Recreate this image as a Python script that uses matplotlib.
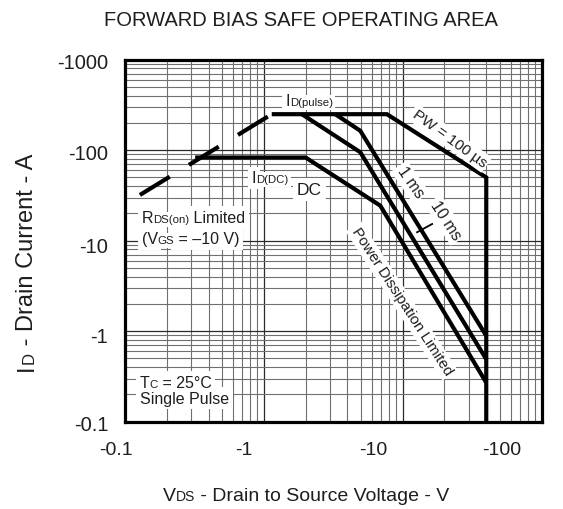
import numpy as np
import matplotlib
matplotlib.use("Agg")
import matplotlib.pyplot as plt
from matplotlib.ticker import LogLocator, NullFormatter, FixedLocator, FixedFormatter
from matplotlib.transforms import ScaledTranslation

plt.rcParams['font.family'] = ['Liberation Sans', 'DejaVu Sans']

# ---------------- data (magnitudes; axes show negative values) ----------------
rds_v = [0.128, 1.14]            # RDS(on) limit (dashed)
rds_i = [32, 250]
pw100us_v = [1.14, 7.7, 40, 40]  # PW = 100 us
pw100us_i = [250, 250, 50, 0.1]
pw1ms_v = [3.27, 4.95, 40]       # 1 ms
pw1ms_i = [250, 164, 0.89]
pw10ms_v = [1.88, 4.95, 40]      # 10 ms
pw10ms_i = [250, 95, 0.49]
dc_v = [0.32, 2.0, 6.9, 40]      # DC
dc_i = [83, 83, 24.4, 0.27]
leader_v = [16.3, 12.7]          # "10 ms" leader line
leader_i = [15.3, 12.4]

x_ticks = [0.1, 1, 10, 100]
x_tick_labels = ['-0.1', '-1', '-10', '-100']
y_ticks = [0.1, 1, 10, 100, 1000]
y_tick_labels = ['-0.1', '-1', '-10', '-100', '-1000']

# ---------------- layout ----------------
W, H = 563, 510
TXT = '#1e1e1e'
D = 0.21  # font descent fraction

fig = plt.figure(figsize=(W / 100, H / 100), dpi=100)
ax = fig.add_axes([125 / W, 1 - 422.7 / H, 416.5 / W, 362 / H])
ax.set_xscale('log')
ax.set_yscale('log')
ax.set_xlim(0.1, 100)
ax.set_ylim(0.1, 1000)

for axis in (ax.xaxis, ax.yaxis):
    axis.set_minor_locator(LogLocator(base=10, subs=np.arange(2, 10), numticks=30))
    axis.set_minor_formatter(NullFormatter())
ax.xaxis.set_major_locator(FixedLocator(x_ticks))
ax.xaxis.set_major_formatter(FixedFormatter(x_tick_labels))
ax.yaxis.set_major_locator(FixedLocator(y_ticks))
ax.yaxis.set_major_formatter(FixedFormatter(y_tick_labels))
ax.tick_params(which='both', length=0)
ax.tick_params(axis='x', pad=14, labelsize=14, labelcolor=TXT)
ax.tick_params(axis='y', pad=12, labelsize=14.5, labelcolor=TXT)
ax.grid(which='major', color='#2a2a2a', lw=0.9)
ax.grid(which='minor', color='#707070', lw=0.8)
ax.set_axisbelow(True)
for sp in ax.spines.values():
    sp.set_linewidth(2.3)
    sp.set_color('black')

# shift tick labels like the reference
x_label_shift_px = [-9, -19.7, -29, -40]
for lab, dx in zip(ax.get_xticklabels(), x_label_shift_px):
    lab.set_transform(lab.get_transform() + ScaledTranslation(dx / 100, 0, fig.dpi_scale_trans))
y_label_shift_px = [-1, -3, -4, -1, -1]
for lab, dy in zip(ax.get_yticklabels(), y_label_shift_px):
    lab.set_transform(lab.get_transform() + ScaledTranslation(0, dy / 100, fig.dpi_scale_trans))

# ---------------- curves ----------------
LW = 3.0
ax.plot(rds_v, rds_i, color='black', lw=LW, dashes=(8.4, 5.4), solid_capstyle='butt',
        dash_capstyle='butt', zorder=3)
for v, i in [(pw100us_v, pw100us_i), (pw1ms_v, pw1ms_i), (pw10ms_v, pw10ms_i), (dc_v, dc_i)]:
    ax.plot(v, i, color='black', lw=LW, solid_joinstyle='miter', solid_capstyle='butt',
            zorder=3, clip_on=True)
ax.plot(leader_v, leader_i, color='black', lw=1.3, zorder=5)


# ---------------- rich text helper ----------------
def rich(pieces, xy, xycoords='data', rotation=0):
    for box in (True, False):
        prev, prev_size = None, None
        for s, size in pieces:
            kw = dict(fontsize=size, annotation_clip=False,
                      color='white' if box else TXT, zorder=4 if box else 6)
            if box:
                kw['bbox'] = dict(boxstyle='square,pad=0.22', facecolor='white', edgecolor='none')
            if prev is None:
                if rotation == 0:
                    a = ax.annotate(s, xy=xy, xycoords=xycoords, ha='left', va='baseline', **kw)
                else:
                    a = ax.annotate(s, xy=xy, xycoords=xycoords, ha='left', va='baseline',
                                    rotation=90, rotation_mode='anchor', **kw)
            else:
                sh = D * (prev_size - size)
                if rotation == 0:
                    a = ax.annotate(s, xy=(1, 0), xycoords=prev, xytext=(0, sh),
                                    textcoords='offset points', ha='left', va='bottom', **kw)
                else:
                    a = ax.annotate(s, xy=(1, 1), xycoords=prev, xytext=(-sh, 0),
                                    textcoords='offset points', ha='right', va='bottom',
                                    rotation=90, **kw)
            prev, prev_size = a, size


BIG, SMALL = 11.5, 8.2
rich([('I', BIG), ('D(pulse)', SMALL)], (1.424, 316))
rich([('I', BIG), ('D(DC)', SMALL)], (0.819, 44.5))
rich([('DC', 12.5)], (1.73, 32.8))
rich([('R', BIG), ('DS(on)', SMALL), (' Limited', BIG)], (0.132, 16.1))
rich([('(V', BIG), ('GS', SMALL), (' = \u201310 V)', BIG)], (0.132, 9.43))
rich([('T', BIG), ('C', SMALL), (' = 25\u00b0C', BIG)], (0.128, 0.2417))
rich([('Single Pulse', BIG)], (0.128, 0.161))

box = dict(boxstyle='square,pad=0.15', facecolor='white', edgecolor='none')
for s, v, i, ang, fs in [('PW = 100 \u00b5s', 21.7, 136, -36, 11),
                         ('1 ms', 11.35, 44.5, -55, 11.5),
                         ('10 ms', 20.5, 16.9, -57, 11.5),
                         ('Power Dissipation Limited', 9.86, 2.16, -57, 10.8)]:
    ax.text(v, i, s, rotation=ang, rotation_mode='anchor', ha='center', va='center',
            fontsize=fs, color=TXT, bbox=box, zorder=4)

# axis titles
fig.text(301 / W, 1 - 21 / H, 'FORWARD BIAS SAFE OPERATING AREA', ha='center', va='center',
         fontsize=14.5, color=TXT)
rich([('V', 14), ('DS', 10), (' - Drain to Source Voltage - V', 14)], (163, H - 501),
     xycoords='figure pixels')
rich([('I', 17), ('D', 12), (' - Drain Current - A', 17)], (33, H - 371),
     xycoords='figure pixels', rotation=90)

fig.savefig('out.png', dpi=100, facecolor='white')
